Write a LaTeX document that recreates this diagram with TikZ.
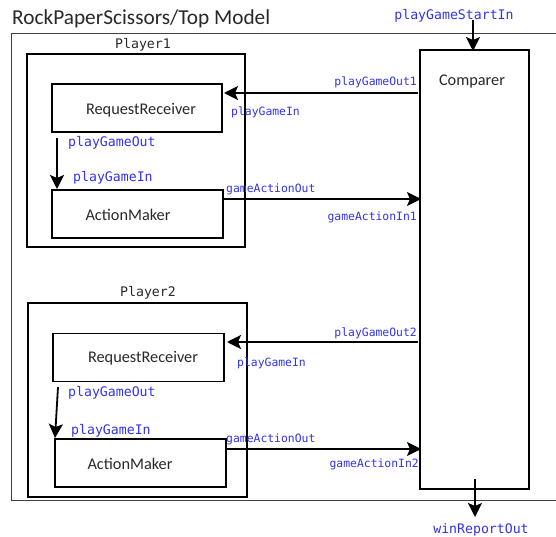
\documentclass[tikz,border=0pt]{standalone}
\usepackage{fontspec}
\setmainfont{Carlito}
\newfontfamily\monof{DejaVu Sans Mono}
\usetikzlibrary{arrows.meta}
\definecolor{portblue}{RGB}{50,50,235}
\definecolor{titlegray}{RGB}{40,40,40}
\begin{document}
\begin{tikzpicture}[x=1pt,y=-1pt,
  box/.style={draw, line width=1.7pt, inner sep=0pt},
  boxtext/.style={font=\fontsize{16.3}{17}\selectfont, text=titlegray, inner sep=0pt},
  port/.style={text=portblue, font=\monof\fontsize{11.4}{12}\selectfont, inner sep=0pt},
  portL/.style={text=portblue, font=\monof\fontsize{13.2}{14}\selectfont, inner sep=0pt},
  plabel/.style={text=titlegray, font=\monof\fontsize{13.2}{14}\selectfont, inner sep=0pt},
  conn/.style={line width=1.8pt, -{Stealth[length=14pt,width=14pt,inset=3pt]}}]
\useasboundingbox (0,0) rectangle (556,537);
% title
\node[anchor=base west, inner sep=0pt, text=titlegray, font=\fontsize{21.3}{23}\selectfont] (title) at (12,25) {RockPaperScissors/Top Model};
% outer frame
\draw[line width=0.9pt, draw=black!75] (560,33) -- (11,33) -- (11,500) -- (560,500);
% players
\node[box, minimum width=218pt, minimum height=193pt] (p1) at (136,150.5) {};
\node[plabel] (p1l) at (143,45) {Player1};
\node[box, minimum width=219pt, minimum height=194pt] (p2) at (137.5,400) {};
\node[plabel] (p2l) at (148,293) {Player2};
% inner boxes
\node[box, minimum width=170pt, minimum height=48pt] (rr1) at (137,108) {};
\node[boxtext] (rr1t) at (141,110) {RequestReceiver};
\node[box, minimum width=171pt, minimum height=48pt] (am1) at (137.5,214) {};
\node[boxtext] (am1t) at (128,215) {ActionMaker};
\node[box, minimum width=171pt, minimum height=48pt] (rr2) at (138.5,357.5) {};
\node[boxtext] (rr2t) at (143,358) {RequestReceiver};
\node[box, minimum width=171pt, minimum height=48pt] (am2) at (140.5,463) {};
\node[boxtext] (am2t) at (130,464) {ActionMaker};
% comparer
\node[box, minimum width=109pt, minimum height=439pt] (cmp) at (474.5,269.5) {};
\node[boxtext] (cmpt) at (472,82) {Comparer};
% connector end points
\coordinate (startTop) at (473,20);
\coordinate (cmpTop) at (473,51);
\coordinate (o1) at (418,93);
\coordinate (i1) at (224,93);
\coordinate (a1s) at (57,138);
\coordinate (a1e) at (57,189);
\coordinate (g1s) at (223,199);
\coordinate (g1e) at (421,199);
\coordinate (o2) at (418,342);
\coordinate (i2) at (227,342);
\coordinate (a2s) at (58,387);
\coordinate (a2e) at (55,438);
\coordinate (g2s) at (226,449);
\coordinate (g2e) at (421,449);
\coordinate (wrs) at (475,479);
\coordinate (wre) at (475,517);
% connectors
\draw[conn] (startTop) -- (cmpTop);
\draw[conn] (o1) -- (i1);
\draw[conn] (a1s) -- (a1e);
\draw[conn] (g1s) -- (g1e);
\draw[conn] (o2) -- (i2);
\draw[conn] (a2s) -- (a2e);
\draw[conn] (g2s) -- (g2e);
\draw[conn] (wrs) -- (wre);
% port labels
\node[portL] (lStart) at (454,16) {playGameStartIn};
\node[port, anchor=east] (lOut1) at (417,82) {playGameOut1};
\node[port, anchor=west] (lIn1) at (231,112) {playGameIn};
\node[portL, anchor=west] (lPgo1) at (68,143) {playGameOut};
\node[portL, anchor=west] (lPgi1) at (73,178) {playGameIn};
\node[port, anchor=west] (lGao1) at (226,189) {gameActionOut};
\node[port, anchor=east] (lGai1) at (417,217) {gameActionIn1};
\node[port, anchor=east] (lOut2) at (417,333) {playGameOut2};
\node[port, anchor=west] (lIn2) at (237,363) {playGameIn};
\node[portL, anchor=west] (lPgo2) at (68,393) {playGameOut};
\node[portL, anchor=west] (lPgi2) at (71,431) {playGameIn};
\node[port, anchor=west] (lGao2) at (226,439) {gameActionOut};
\node[port, anchor=east] (lGai2) at (419,464) {gameActionIn2};
\node[portL] (lWin) at (481,530) {winReportOut};
\end{tikzpicture}
\end{document}
